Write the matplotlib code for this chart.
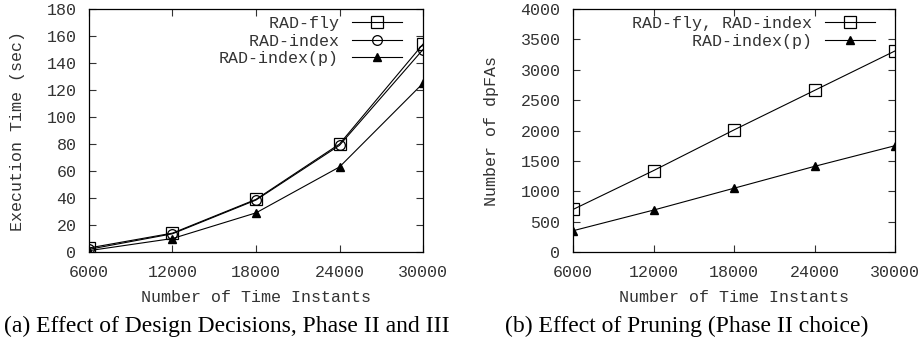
import matplotlib
matplotlib.use("Agg")
import matplotlib.pyplot as plt

# ------------------------------------------------------------
#  Datos
# ------------------------------------------------------------
instants = [6000, 12000, 18000, 24000, 30000]

# (a) execution time (sec)
time_fly = [3, 14, 39, 80, 154]
time_index = [2, 13.5, 38.5, 79, 150]
time_index_p = [1, 10, 29, 63, 125]

# (b) number of dpFAs
dpfa_fly_index = [700, 1340, 2010, 2660, 3310]
dpfa_index_p = [350, 690, 1050, 1410, 1750]

xticks = [6000, 12000, 18000, 24000, 30000]

# ------------------------------------------------------------
#  Estilo
# ------------------------------------------------------------
plt.rcParams.update({
    "font.family": "Liberation Mono",
    "font.size": 12,
    "axes.linewidth": 0.9,
    "xtick.direction": "in",
    "ytick.direction": "in",
    "xtick.top": True,
    "ytick.right": True,
    "xtick.major.size": 5,
    "ytick.major.size": 5,
    "xtick.color": "#333333",
    "ytick.color": "#333333",
    "xtick.labelcolor": "#333333",
    "ytick.labelcolor": "#333333",
})

fig = plt.figure(figsize=(9.23, 3.44), dpi=100)
ax1 = fig.add_axes([0.0964, 0.2674, 0.3619, 0.7064])
ax2 = fig.add_axes([0.6208, 0.2674, 0.3489, 0.7064])

lw = 0.8


def pad(labels):
    # monospace: leading spaces right-align legend text like gnuplot
    n = max(len(s) for s in labels)
    return [s.rjust(n) for s in labels]


# ---- (a) ----
lab_a = pad(["RAD-fly", "RAD-index", "RAD-index(p)"])
ax1.plot(instants, time_fly, color="black", lw=lw, marker="s", ms=8,
         mfc="none", mew=0.9, label=lab_a[0])
ax1.plot(instants, time_index, color="black", lw=lw, marker="o", ms=7,
         mfc="none", mew=0.9, label=lab_a[1])
ax1.plot(instants, time_index_p, color="black", lw=lw, marker="^", ms=5.5,
         label=lab_a[2])
ax1.set_xlim(6000, 30000)
ax1.set_ylim(0, 180)
ax1.set_yticks(range(0, 181, 20))
ax1.set_ylabel("Execution Time (sec)", color="#333333")
ax1.yaxis.set_label_coords(-0.213, 0.5)

# ---- (b) ----
lab_b = pad(["RAD-fly, RAD-index", "RAD-index(p)"])
ax2.plot(instants, dpfa_fly_index, color="black", lw=lw, marker="s", ms=8,
         mfc="none", mew=0.9, label=lab_b[0])
ax2.plot(instants, dpfa_index_p, color="black", lw=lw, marker="^", ms=5.5,
         label=lab_b[1])
ax2.set_xlim(6000, 30000)
ax2.set_ylim(0, 4000)
ax2.set_yticks(range(0, 4001, 500))
ax2.set_ylabel("Number of dpFAs", color="#333333")
ax2.yaxis.set_label_coords(-0.252, 0.5)

for ax, dx in ((ax1, 11 / 334), (ax2, 10 / 322)):
    ax.set_xticks(xticks)
    ax.set_xlabel("Number of Time Instants", color="#333333")
    ax.xaxis.label.set_va("center")
    ax.yaxis.label.set_va("center")
    ax.xaxis.set_label_coords(0.5, -0.189)
    ax.tick_params(axis="x", pad=9)
    ax.tick_params(axis="y", pad=9)
    ax.legend(loc="upper right", bbox_to_anchor=(1 - dx, 1 + 3 / 243),
              frameon=False, markerfirst=False,
              handlelength=3.0, handletextpad=0.8, labelspacing=0.15,
              borderaxespad=0.2, labelcolor="#333333")

fig.text(4 / 923, 0.05, "(a) Effect of Design Decisions, Phase II and III",
         ha="left", va="center", family="Liberation Serif", fontsize=17)
fig.text(505 / 923, 0.05, "(b) Effect of Pruning (Phase II choice)",
         ha="left", va="center", family="Liberation Serif", fontsize=17)

fig.savefig("out.png", dpi=100)
